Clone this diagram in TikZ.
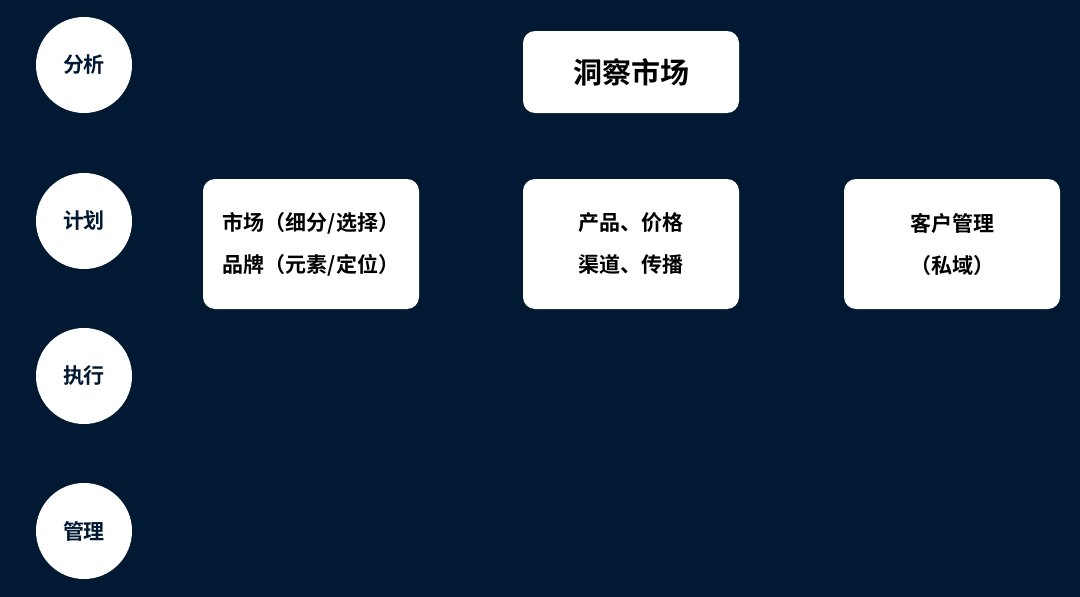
\documentclass[tikz,border=0pt]{standalone}
\usepackage{fontspec}
\newfontfamily\cjk{Noto Sans CJK SC}[BoldFont=* Bold]
\definecolor{bg}{HTML}{021933}
\begin{document}
\begin{tikzpicture}[x=1pt,y=-1pt,
  circ/.style={circle,fill=white,minimum size=96pt,inner sep=0pt,font=\cjk\bfseries\fontsize{21}{24}\selectfont,text=bg},
  box/.style={rectangle,rounded corners=12pt,fill=white,minimum width=216pt,inner sep=0pt,align=center,font=\cjk\bfseries\fontsize{21}{42}\selectfont,text=black}]
\fill[bg] (0,0) rectangle (1080,597);
\node[circ] (c1) at (84,65) {分析};
\node[circ] (c2) at (84,221) {计划};
\node[circ] (c3) at (84,376) {执行};
\node[circ] (c4) at (84,531) {管理};
\node[box,minimum height=82pt,font=\cjk\bfseries\fontsize{29}{34}\selectfont] (top) at (631,72) {洞察市场};
\node[box,minimum height=130pt] (b1) at (311,244) {市场（细分/选择）\\品牌（元素/定位）};
\node[box,minimum height=130pt] (b2) at (631,244) {产品、价格\\渠道、传播};
\node[box,minimum height=130pt] (b3) at (952,244) {客户管理\\（私域）};
\end{tikzpicture}
\end{document}
